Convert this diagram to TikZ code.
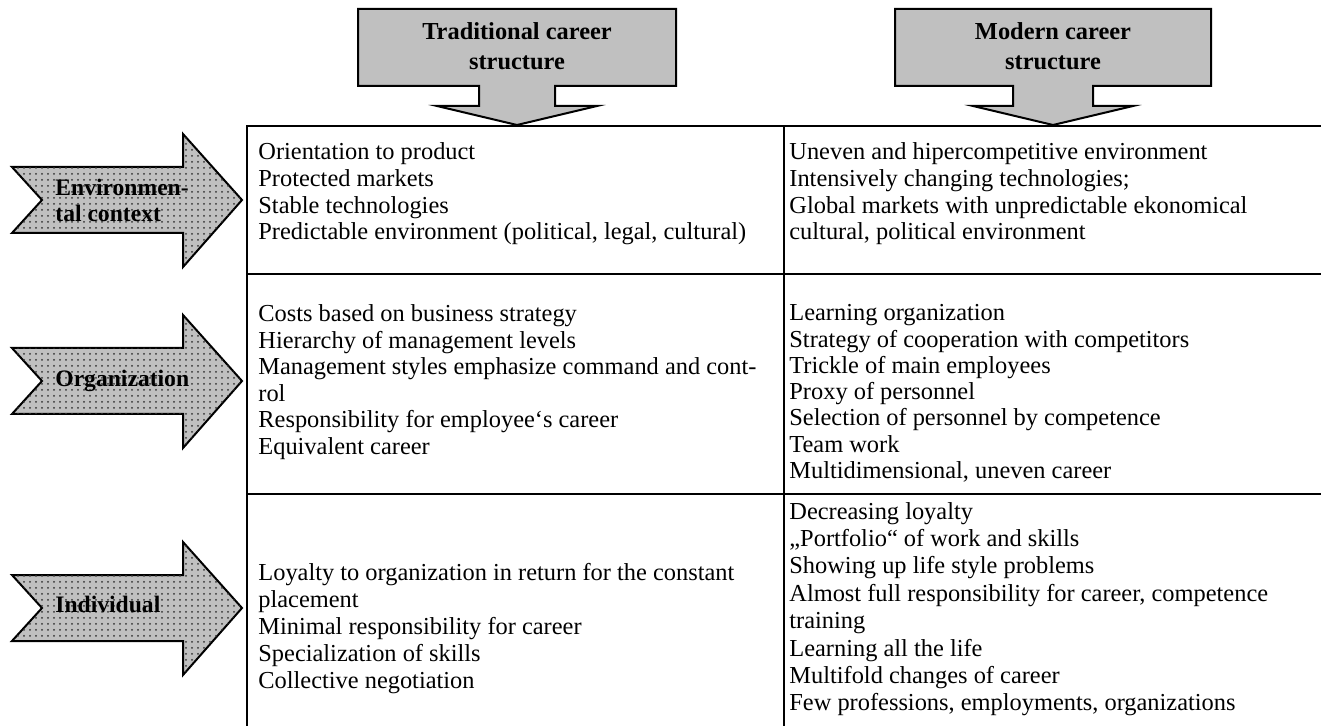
\documentclass[tikz,border=0pt]{standalone}
\usepackage{fontspec}
\setmainfont{Liberation Serif}
\usetikzlibrary{patterns}
\definecolor{arrowgray}{HTML}{C0C0C0}
\begin{document}
\begin{tikzpicture}[x=0.5pt,y=-0.5pt,
  rule/.style={line width=1pt},
  hdrarrow/.style={draw=black, line width=1pt, fill=arrowgray, line join=miter},
  sidearrow/.style={draw=black, line width=1pt, fill=arrowgray, line join=miter,
    postaction={pattern=dots, pattern color=black!80}},
  hdrtext/.style={font=\fontsize{12.2}{14}\selectfont\bfseries, inner sep=0pt, anchor=base},
  sidetext/.style={font=\fontsize{11.8}{14}\selectfont\bfseries, inner sep=0pt, anchor=base west},
  celltext/.style={font=\fontsize{12.2}{14}\selectfont, inner sep=0pt, anchor=base west}]
\useasboundingbox (0,0) rectangle (1321,726);

% ---- header arrows ----
\draw[hdrarrow] (358,9) -- (676,9) -- (676,86) -- (555,86) -- (555,106) -- (597,106)
  -- (517,125) -- (437,106) -- (479,106) -- (479,86) -- (358,86) -- cycle;
\node[hdrtext] (trad1) at (517,40) {Traditional career};
\node[hdrtext] (trad2) at (517,70) {structure};

\draw[hdrarrow] (895,9) -- (1211,9) -- (1211,86) -- (1093,86) -- (1093,106) -- (1133,106)
  -- (1053,125) -- (973,106) -- (1013,106) -- (1013,86) -- (895,86) -- cycle;
\node[hdrtext] (mod1) at (1053,40) {Modern career};
\node[hdrtext] (mod2) at (1053,70) {structure};

% ---- side arrows ----
\foreach \c/\n in {200/env,381/org,608/ind}{
  \draw[sidearrow] (12,\c-33) -- (183,\c-33) -- (183,\c-66) -- (242,\c) -- (183,\c+67)
    -- (183,\c+33) -- (12,\c+33) -- (42,\c) -- cycle;
}
\node[sidetext] (env1) at (55,196) {Environmen-};
\node[sidetext] (env2) at (55,222) {tal context};
\node[sidetext] (org) at (55,387) {Organization};
\node[sidetext] (ind) at (55,612) {Individual};

% ---- table ----
\coordinate (tl) at (247,126);
\coordinate (tr) at (1322,126);
\coordinate (bl) at (247,727);
\coordinate (tm) at (784,126);
\coordinate (bm) at (784,727);
\coordinate (r1l) at (247,274);
\coordinate (r1r) at (1322,274);
\coordinate (r2l) at (247,494);
\coordinate (r2r) at (1322,494);
\draw[rule] (tr) -- (tl) -- (bl);
\draw[rule] (tm) -- (bm);
\draw[rule] (r1l) -- (r1r);
\draw[rule] (r2l) -- (r2r);

% ---- row 1 ----
\foreach \t [count=\i] in {Orientation to product, Protected markets, Stable technologies,
  {Predictable environment (political, legal, cultural)}}
  \node[celltext] (a\i) at (258,{160+(\i-1)*26.6}) {\t};
\foreach \t [count=\i] in {Uneven and hipercompetitive environment, Intensively changing technologies;,
  Global markets with unpredictable ekonomical, {cultural, political environment}}
  \node[celltext] (b\i) at (789,{160+(\i-1)*26.6}) {\t};

% ---- row 2 ----
\foreach \t [count=\i] in {Costs based on business strategy, Hierarchy of management levels,
  Management styles emphasize command and cont-, rol, Responsibility for employee‘s career,
  Equivalent career}
  \node[celltext] (c\i) at (258,{322+(\i-1)*26.5}) {\t};
\foreach \t [count=\i] in {Learning organization, Strategy of cooperation with competitors,
  Trickle of main employees, Proxy of personnel, Selection of personnel by competence,
  Team work, {Multidimensional, uneven career}}
  \node[celltext] (d\i) at (789,{321+(\i-1)*26.2}) {\t};

% ---- row 3 ----
\foreach \t [count=\i] in {Loyalty to organization in return for the constant, placement,
  Minimal responsibility for career, Specialization of skills, Collective negotiation}
  \node[celltext] (e\i) at (258,{580+(\i-1)*27}) {\t};
\foreach \t [count=\i] in {Decreasing loyalty, „Portfolio“ of work and skills,
  Showing up life style problems, {Almost full responsibility for career, competence},
  training, Learning all the life, Multifold changes of career,
  {Few professions, employments, organizations}}
  \node[celltext] (f\i) at (789,{519+(\i-1)*27.4}) {\t};
\end{tikzpicture}
\end{document}
